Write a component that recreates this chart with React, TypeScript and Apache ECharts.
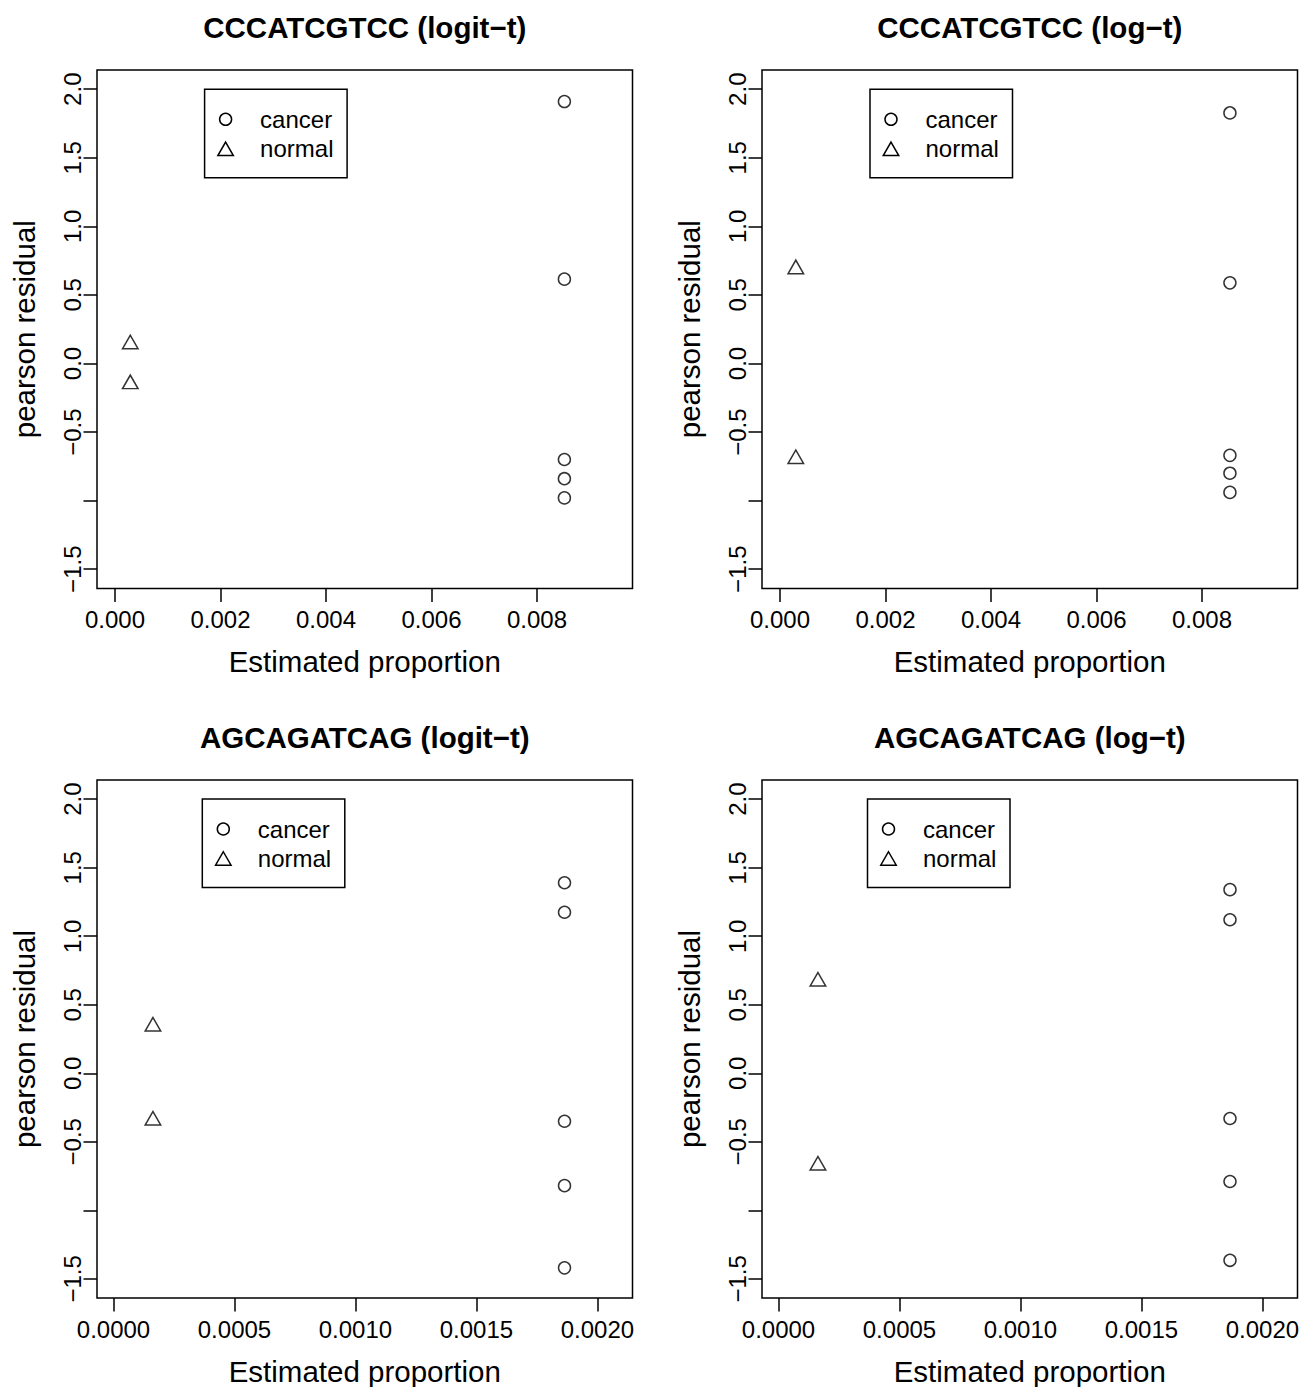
import React, { useEffect, useRef } from 'react';
import * as echarts from 'echarts';

// ---------- data ----------
const panelTitles = [
  'CCCATCGTCC (logit\u2212t)',
  'CCCATCGTCC (log\u2212t)',
  'AGCAGATCAG (logit\u2212t)',
  'AGCAGATCAG (log\u2212t)',
];
const seriesNames = ['cancer', 'normal'];
const xAxisTitle = 'Estimated proportion';
const yAxisTitle = 'pearson residual';

// estimated proportion of each group (one value per panel)
const cancerX = [0.00852, 0.00853, 0.001864, 0.001866];
const normalX = [0.00029, 0.0003, 0.000163, 0.000163];

// pearson residuals
const cancerY1 = [1.91, 0.615, -0.7, -0.84, -0.98];
const normalY1 = [0.157, -0.134];
const cancerY2 = [1.827, 0.588, -0.67, -0.8, -0.94];
const normalY2 = [0.704, -0.68];
const cancerY3 = [1.39, 1.175, -0.35, -0.82, -1.42];
const normalY3 = [0.358, -0.328];
const cancerY4 = [1.34, 1.12, -0.33, -0.79, -1.365];
const normalY4 = [0.686, -0.657];

const cancerYs = [cancerY1, cancerY2, cancerY3, cancerY4];
const normalYs = [normalY1, normalY2, normalY3, normalY4];

// axes
const xTicksTop = [0, 0.002, 0.004, 0.006, 0.008];
const xTicksBottom = [0, 0.0005, 0.001, 0.0015, 0.002];
const yTicks = [-1.5, -1, -0.5, 0, 0.5, 1, 1.5, 2];
const yLabelValues = [-1.5, -0.5, 0, 0.5, 1, 1.5, 2];
const xRangeTop = [-0.000341, 0.009811];
const xRangeBottom = [-0.0000682, 0.002145];
const yRange = [-1.64, 2.14];

// ---------- layout ----------
const FONT = '"Liberation Sans", Arial, Helvetica, sans-serif';
const GRID_POS = [
  { left: 97, top: 70 },
  { left: 762, top: 70 },
  { left: 97, top: 780 },
  { left: 762, top: 780 },
];
const GW = 535.5;
const GH = 518.4;
const LEGEND_POS = [
  [204.6, 89.3],
  [870, 89.3],
  [202.3, 799],
  [867.5, 799],
];
const LW = 142.5;
const LH = 88.5;

function fmtY(v: number) {
  return v.toFixed(1).replace('-', '\u2212');
}

function buildOption() {
  const grid = GRID_POS.map((g) => ({
    left: g.left,
    top: g.top,
    width: GW,
    height: GH,
    show: true,
    borderColor: '#000',
    borderWidth: 1.5,
    backgroundColor: 'transparent',
    containLabel: false,
  }));

  const xAxis = GRID_POS.map((_, i) => {
    const top = i < 2;
    const ticks = top ? xTicksTop : xTicksBottom;
    const range = top ? xRangeTop : xRangeBottom;
    const dec = top ? 3 : 4;
    return {
      type: 'value',
      gridIndex: i,
      min: range[0],
      max: range[1],
      splitLine: { show: false },
      axisLine: { show: false, onZero: false },
      axisTick: {
        show: true,
        length: 13.5,
        inside: false,
        lineStyle: { color: '#000', width: 1.5 },
        customValues: ticks,
      },
      axisLabel: {
        customValues: ticks,
        formatter: (v: number) => v.toFixed(dec),
        fontSize: 24,
        lineHeight: 24,
        fontFamily: FONT,
        color: '#000',
        margin: 19.5,
      },
      name: xAxisTitle,
      nameLocation: 'middle',
      nameGap: 58,
      nameTextStyle: { fontSize: 29.5, lineHeight: 30, fontFamily: FONT, color: '#000' },
    };
  });

  const yAxis = GRID_POS.map((_, i) => ({
    type: 'value',
    gridIndex: i,
    min: yRange[0],
    max: yRange[1],
    splitLine: { show: false },
    axisLine: { show: false, onZero: false },
    axisTick: {
      show: true,
      length: 13.5,
      inside: false,
      lineStyle: { color: '#000', width: 1.5 },
      customValues: yTicks,
    },
    axisLabel: {
      customValues: yLabelValues,
      formatter: (v: number) => fmtY(v),
      rotate: 90,
      fontSize: 24,
      lineHeight: 24,
      fontFamily: FONT,
      color: '#000',
      margin: 13,
    },
    name: yAxisTitle,
    nameLocation: 'middle',
    nameGap: 58,
    nameTextStyle: { fontSize: 29.5, lineHeight: 30, fontFamily: FONT, color: '#000' },
  }));

  const series: any[] = [];
  GRID_POS.forEach((_, i) => {
    series.push({
      type: 'scatter',
      name: seriesNames[0],
      xAxisIndex: i,
      yAxisIndex: i,
      symbol: 'circle',
      symbolSize: 12,
      itemStyle: { color: 'rgba(0,0,0,0)', borderColor: '#000', borderWidth: 1.5 },
      emphasis: { disabled: true },
      silent: true,
      data: cancerYs[i].map((y) => [cancerX[i], y]),
    });
    series.push({
      type: 'scatter',
      name: seriesNames[1],
      xAxisIndex: i,
      yAxisIndex: i,
      symbol: 'triangle',
      symbolSize: [15.5, 13.5],
      itemStyle: { color: 'rgba(0,0,0,0)', borderColor: '#000', borderWidth: 1.5 },
      emphasis: { disabled: true },
      silent: true,
      data: normalYs[i].map((y) => [normalX[i], y]),
    });
  });

  const graphic: any[] = [];
  GRID_POS.forEach((g, i) => {
    // panel title
    graphic.push({
      type: 'text',
      x: g.left + GW / 2,
      y: g.top - 43,
      silent: true,
      style: {
        text: panelTitles[i],
        font: `bold 29.5px ${FONT}`,
        fill: '#000',
        align: 'center',
        verticalAlign: 'middle',
      },
    });
    // legend box
    const [bx, by] = LEGEND_POS[i];
    graphic.push({
      type: 'rect',
      silent: true,
      shape: { x: bx, y: by, width: LW, height: LH },
      style: { fill: '#fff', stroke: '#000', lineWidth: 1.5 },
    });
    const sx = bx + 21;
    const r1 = by + 30;
    const r2 = by + 59.5;
    graphic.push({
      type: 'circle',
      silent: true,
      shape: { cx: sx, cy: r1, r: 6 },
      style: { fill: 'none', stroke: '#000', lineWidth: 1.5 },
    });
    graphic.push({
      type: 'polygon',
      silent: true,
      shape: {
        points: [
          [sx, r2 - 6.75],
          [sx + 7.75, r2 + 6.75],
          [sx - 7.75, r2 + 6.75],
        ],
      },
      style: { fill: 'none', stroke: '#000', lineWidth: 1.5 },
    });
    [seriesNames[0], seriesNames[1]].forEach((t, k) => {
      graphic.push({
        type: 'text',
        silent: true,
        x: bx + 55.5,
        y: k === 0 ? r1 : r2,
        style: {
          text: t,
          font: `24px ${FONT}`,
          fill: '#000',
          align: 'left',
          verticalAlign: 'middle',
        },
      });
    });
  });

  return {
    animation: false,
    backgroundColor: '#fff',
    grid,
    xAxis,
    yAxis,
    series,
    graphic,
  };
}

export default function App() {
  const ref = useRef<HTMLDivElement>(null);
  useEffect(() => {
    if (!ref.current) return;
    const chart = echarts.init(ref.current, undefined, { renderer: 'svg' });
    chart.setOption(buildOption() as any);
    return () => chart.dispose();
  }, []);
  return (
    <div
      ref={ref}
      style={{ position: 'absolute', left: 0, top: 0, width: 1303, height: 1387, background: '#fff' }}
    />
  );
}
